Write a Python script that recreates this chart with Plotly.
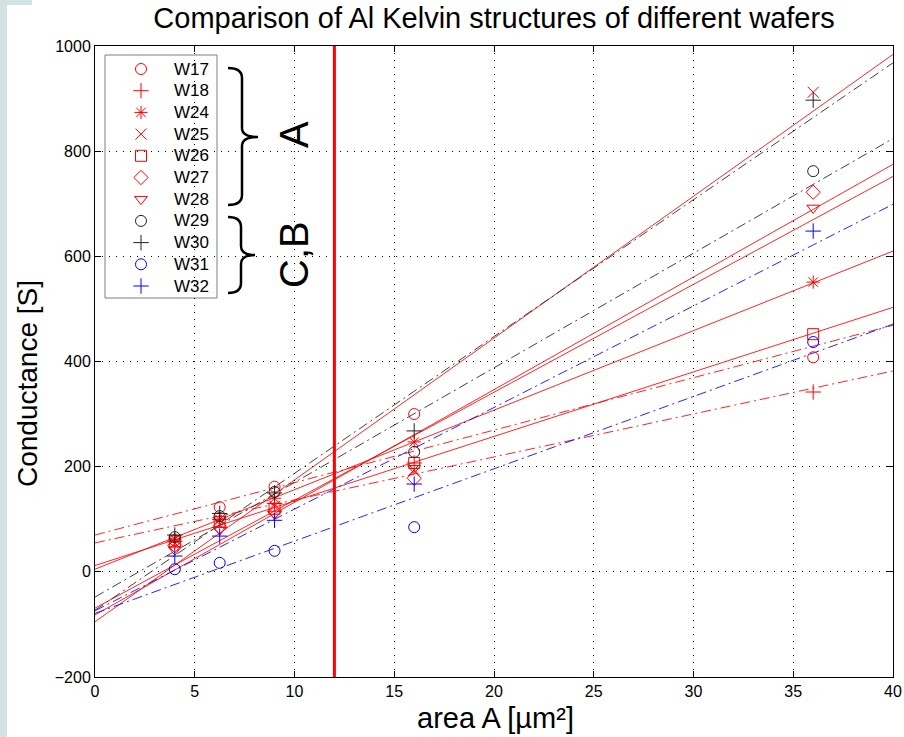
import plotly.graph_objects as go

# ---------------- data ----------------
wafers = ["W17", "W18", "W24", "W25", "W26", "W27", "W28", "W29", "W30", "W31", "W32"]
area = [4, 6.25, 9, 16, 36]

g_W17 = [60, 123, 162, 300, 408]
g_W18 = [58, 100, 130, 207, 342]
g_W24 = [62, 100, 140, 247, 551]
g_W25 = [55, 90, 125, 194, 912]
g_W26 = [58, 95, 120, 207, 452]
g_W27 = [50, 85, 115, 178, 722]
g_W28 = [42, 80, 110, 197, 692]
g_W29 = [66, 106, 152, 228, 762]
g_W30 = [70, 111, 150, 268, 897]
g_W31 = [5, 17, 40, 85, 437]
g_W32 = [30, 68, 98, 167, 648]
conductance = [g_W17, g_W18, g_W24, g_W25, g_W26, g_W27, g_W28, g_W29, g_W30, g_W31, g_W32]

# linear-fit lines, read at area = 0 and area = 40
fit_x = [0, 40]
fit_at_0 = [70, 55, 5, -95, 12, -82, -69, -48, -73, -79, -74]
fit_at_40 = [469, 382, 610, 984, 503, 775, 752, 824, 968, 471, 699]

threshold_area = [12, 12]
threshold_g = [-200, 1000]

x_ticks = [0, 5, 10, 15, 20, 25, 30, 35, 40]
y_ticks = [-200, 0, 200, 400, 600, 800, 1000]

# ---------------- styles ----------------
RED, BLK, BLU = "#ff0000", "#222222", "#0000ff"
colors = [RED] * 7 + [BLK, BLK, BLU, BLU]
symbols = ["circle-open", "cross-thin-open", "asterisk-open", "x-thin-open", "square-open",
           "diamond-open", "triangle-down-open", "circle-open", "cross-thin-open",
           "circle-open", "cross-thin-open"]
DD = "10px,4px,2px,4px"
dashes = [DD, DD, "solid", "solid", "solid", "solid", "solid", DD, DD, DD, DD]

FONT = "Liberation Sans, Arial, sans-serif"
W, H = 904, 737
L, R, T, B = 95, 11, 46, 60
PW, PH = W - L - R, H - T - B


def px(xp):
    return (xp - L) / PW


def py(yp):
    return (H - B - yp) / PH


fig = go.Figure()

# fit lines
for i, w in enumerate(wafers):
    fig.add_trace(go.Scatter(
        x=fit_x, y=[fit_at_0[i], fit_at_40[i]], mode="lines",
        line=dict(color=colors[i], width=1, dash=dashes[i]),
        opacity=0.85, showlegend=False, hoverinfo="skip"))

# threshold line
fig.add_trace(go.Scatter(x=threshold_area, y=threshold_g, mode="lines",
                         line=dict(color="#ff0000", width=3), showlegend=False,
                         hoverinfo="skip"))

# markers
for i, w in enumerate(wafers):
    fig.add_trace(go.Scatter(
        x=area, y=conductance[i], mode="markers", name=w, showlegend=False,
        marker=dict(symbol=symbols[i], size=11, color=colors[i],
                    line=dict(color=colors[i], width=1))))

# ---- legend key drawn on an overlay axis measured in screen pixels ----
LEG_X0, LEG_X1, LEG_Y0, LEG_Y1 = 105, 217, 55, 298
LEG_ROW0, LEG_STEP, LEG_MX, LEG_TX = 69, 21.7, 141, 172
for i, w in enumerate(wafers):
    fig.add_trace(go.Scatter(
        x=[LEG_MX], y=[LEG_ROW0 + LEG_STEP * i], xaxis="x2", yaxis="y2",
        mode="markers", showlegend=False, hoverinfo="skip",
        marker=dict(symbol=symbols[i], size=11, color=colors[i],
                    line=dict(color=colors[i], width=1))))

axis_common = dict(
    showline=True, linecolor="black", linewidth=1, mirror="ticks",
    ticks="inside", ticklen=6, tickcolor="black", automargin=False,
    showgrid=True, gridcolor="black", gridwidth=1, griddash="1px,6px",
    zeroline=False, tickfont=dict(family=FONT, size=16, color="black"))

fig.update_xaxes(range=[0, 40], tickvals=x_ticks, **axis_common)
fig.update_yaxes(range=[-200, 1000], tickvals=y_ticks, **axis_common)

shapes = [
    # slide-like background strips
    dict(type="rect", xref="paper", yref="paper", x0=px(0), x1=px(7), y0=py(H), y1=py(0),
         fillcolor="#d3e2e2", line_width=0, layer="below"),
    dict(type="rect", xref="paper", yref="paper", x0=px(0), x1=px(32), y0=py(5), y1=py(0),
         fillcolor="#d3e2e2", line_width=0, layer="below"),
    # legend box
    dict(type="rect", xref="paper", yref="paper", x0=px(LEG_X0), x1=px(LEG_X1),
         y0=py(LEG_Y1), y1=py(LEG_Y0), fillcolor="white",
         line=dict(color="#7f7f7f", width=1), layer="between"),
]


def brace(x0, xv, xm, ytop, ymid, ybot):
    p = (f"M {px(x0)},{py(ytop)} Q {px(xv)},{py(ytop)} {px(xv)},{py(ytop+10)} "
         f"L {px(xv)},{py(ymid-9)} Q {px(xv)},{py(ymid)} {px(xm)},{py(ymid)} "
         f"Q {px(xv)},{py(ymid)} {px(xv)},{py(ymid+9)} "
         f"L {px(xv)},{py(ybot-10)} Q {px(xv)},{py(ybot)} {px(x0)},{py(ybot)}")
    return dict(type="path", xref="paper", yref="paper", path=p,
                line=dict(color="black", width=2.5))


shapes.append(brace(228, 242, 258, 68, 137, 205))
shapes.append(brace(228, 241, 255, 217, 255, 293))

annotations = [
    dict(text="A", x=px(294), y=py(135), xref="paper", yref="paper", showarrow=False,
         xanchor="center", yanchor="middle",
         textangle=-90, font=dict(family=FONT, size=40, color="black")),
    dict(text="C,B", x=px(294), y=py(255), xref="paper", yref="paper", showarrow=False,
         xanchor="center", yanchor="middle",
         textangle=-90, font=dict(family=FONT, size=40, color="black")),
    dict(text="area A [µm²]", x=px(495), y=py(718), xref="paper", yref="paper",
         xanchor="center", yanchor="middle",
         showarrow=False, font=dict(family=FONT, size=29, color="black")),
    dict(text="Conductance [S]", x=px(27), y=py(384), xref="paper", yref="paper",
         xanchor="center", yanchor="middle",
         showarrow=False, textangle=-90, font=dict(family=FONT, size=28, color="black")),
]
for i, w in enumerate(wafers):
    annotations.append(dict(text=w, x=LEG_TX, y=LEG_ROW0 + LEG_STEP * i, xref="x2", yref="y2",
                            xanchor="left", yanchor="middle", showarrow=False,
                            font=dict(family=FONT, size=17, color="black")))

fig.update_layout(
    width=W, height=H, margin=dict(l=L, r=R, t=T, b=B),
    paper_bgcolor="white", plot_bgcolor="white", showlegend=False,
    xaxis2=dict(overlaying="x", range=[L, L + PW], visible=False, domain=[0, 1],
                fixedrange=True),
    yaxis2=dict(overlaying="y", range=[H - B, T], visible=False, domain=[0, 1],
                fixedrange=True),
    title=dict(text="Comparison of Al Kelvin structures of different wafers",
               x=px(494), xref="paper", xanchor="center",
               y=(H - 18) / H, yref="container", yanchor="middle",
               font=dict(family=FONT, size=29, color="black")),
    shapes=shapes, annotations=annotations,
)

fig.write_html("out.html")
